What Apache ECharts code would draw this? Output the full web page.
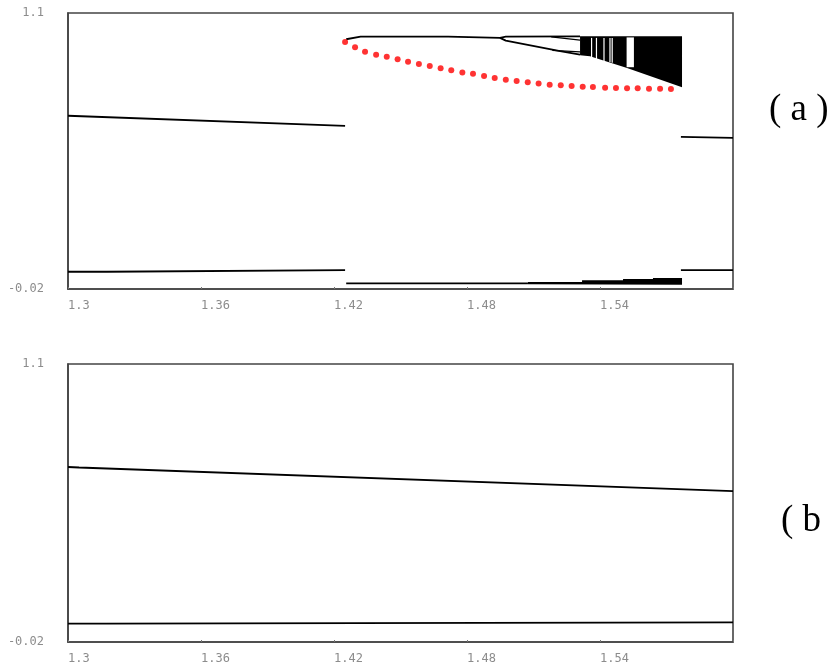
<!DOCTYPE html>
<html>
<head>
<meta charset="utf-8">
<script src="https://cdn.jsdelivr.net/npm/echarts@6/dist/echarts.min.js"></script>
<style>
html,body{margin:0;padding:0;background:#fff;}
#chart{width:834px;height:667px;}
</style>
</head>
<body>
<div id="chart"></div>
<script>
// ---------- data ----------
const xTicks = [1.3, 1.36, 1.42, 1.48, 1.54];
const yTicks = [-0.02, 1.1];

// panel (a)
const aUpperLeft = [[1.3, 0.683], [1.425, 0.642]];
const aLowerLeft = [[1.3, 0.050], [1.3175, 0.050], [1.3175, 0.057], [1.425, 0.057]];
const aUpperJump = [[1.4255, 0.9935], [1.432, 1.004], [1.4715, 1.004], [1.4717, 0.999], [1.4949, 0.999], [1.4975, 1.004], [1.531, 1.005]];
const aPeriod2 = [[1.4949, 0.999], [1.4975, 0.988], [1.522, 0.945], [1.531, 0.931]];
const aPeriod4a = [[1.518, 1.003], [1.531, 0.990]];
const aPeriod4b = [[1.5185, 0.948], [1.531, 0.942]];
const aLowerJump = [[1.4255, 0.003], [1.5075, 0.003]];
const aChaosTop = [[1.531, 1.0056], [1.577, 1.0056], [1.577, 0.799], [1.5522, 0.877], [1.5355, 0.925], [1.531, 0.929]];
const aChaosBottom = [[1.5075, 0.0005], [1.5075, 0.0084], [1.5319, 0.0084], [1.5319, 0.0153], [1.5504, 0.0153],
  [1.5504, 0.0206], [1.5639, 0.0206], [1.5639, 0.0246], [1.577, 0.0246], [1.577, -0.0025], [1.5075, -0.0010]];
const aWindows = [[1.5362, 0.999, 0.915], [1.5384, 0.999, 0.912], [1.5418, 0.999, 0.905], [1.5445, 0.999, 0.900], [1.5455, 0.999, 0.898]];
const aWindowBox = [[1.552, 1.001], [1.5553, 1.001], [1.5553, 0.880], [1.552, 0.880]];
const aWindowLine = [[1.552, 0.942], [1.5553, 0.942]];
const aUpperRight = [[1.5765, 0.597], [1.6, 0.593]];
const aLowerRight = [[1.5765, 0.057], [1.6, 0.057]];
const aDotX = [1.4250, 1.4295, 1.4340, 1.4390, 1.4438, 1.4487, 1.4534, 1.4583, 1.4632, 1.4681, 1.4729,
  1.4779, 1.4827, 1.4877, 1.4925, 1.4975, 1.5024, 1.5074, 1.5123, 1.5173, 1.5223, 1.5272, 1.5322, 1.5368,
  1.5423, 1.5472, 1.5522, 1.5570, 1.5621, 1.5671, 1.5720];
const aDotY = [0.982, 0.961, 0.943, 0.931, 0.922, 0.912, 0.902, 0.893, 0.885, 0.876, 0.868, 0.859, 0.853,
  0.844, 0.836, 0.829, 0.824, 0.819, 0.814, 0.809, 0.807, 0.804, 0.801, 0.800, 0.797, 0.796, 0.795, 0.795,
  0.793, 0.793, 0.792];

// panel (b)
const bUpper = [[1.3, 0.685], [1.305, 0.683], [1.6, 0.588]];
const bLower = [[1.3, 0.054], [1.3175, 0.054], [1.3175, 0.057], [1.6, 0.059]];

const panelLabels = ['( a )', '( b'];

// ---------- chart ----------
const chart = echarts.init(document.getElementById('chart'), null, {renderer: 'canvas'});

const labelFont = {color: '#8c8c8c', fontFamily: 'DejaVu Sans Mono', fontSize: 12};

function xAxisFor(gi) {
  return {
    type: 'value', gridIndex: gi, min: 1.3, max: 1.6,
    axisLine: {show: true, onZero: false, lineStyle: {color: '#444', width: 1.6}},
    axisTick: {show: true, inside: true, length: 2, lineStyle: {color: '#777'}, customValues: xTicks.concat([1.6])},
    axisLabel: Object.assign({show: true, customValues: xTicks, align: 'left', margin: 11,
      formatter: v => String(v)}, labelFont),
    splitLine: {show: false}
  };
}
function yAxisFor(gi) {
  return {
    type: 'value', gridIndex: gi, min: -0.02, max: 1.1,
    axisLine: {show: true, onZero: false, lineStyle: {color: '#444', width: 1.6}},
    axisTick: {show: false},
    axisLabel: Object.assign({show: true, customValues: yTicks, margin: 24,
      formatter: v => String(v)}, labelFont),
    splitLine: {show: false}
  };
}
function lineS(data, gi, w) {
  return {type: 'line', data: data, xAxisIndex: gi, yAxisIndex: gi, showSymbol: false, symbol: 'none',
    silent: true, animation: false, lineStyle: {color: '#000', width: w || 1.8}, z: 3};
}
function polyS(pts, color, gi, z) {
  return {type: 'custom', xAxisIndex: gi, yAxisIndex: gi, data: [pts[0]], silent: true, animation: false, z: z,
    renderItem: function (params, api) {
      return {type: 'polygon', shape: {points: pts.map(p => api.coord(p))}, style: {fill: color}};
    }};
}
function vLinesS(data, color, gi, z) {
  return {type: 'custom', xAxisIndex: gi, yAxisIndex: gi, data: data, silent: true, animation: false, z: z,
    encode: {x: 0, y: [1, 2]},
    renderItem: function (params, api) {
      const p1 = api.coord([api.value(0), api.value(1)]);
      const p2 = api.coord([api.value(0), api.value(2)]);
      return {type: 'line', shape: {x1: p1[0], y1: p1[1], x2: p2[0], y2: p2[1]},
        style: {stroke: color, lineWidth: 1.2}};
    }};
}

const option = {
  backgroundColor: '#fff',
  animation: false,
  grid: [
    {left: 68, top: 13, width: 665, height: 276, show: true, borderColor: '#444', borderWidth: 1.6, backgroundColor: 'transparent'},
    {left: 68, top: 364, width: 665, height: 278, show: true, borderColor: '#444', borderWidth: 1.6, backgroundColor: 'transparent'}
  ],
  xAxis: [xAxisFor(0), xAxisFor(1)],
  yAxis: [yAxisFor(0), yAxisFor(1)],
  series: [
    lineS(aUpperLeft, 0),
    lineS(aLowerLeft, 0),
    lineS(aUpperJump, 0),
    lineS(aPeriod2, 0),
    lineS(aPeriod4a, 0, 1.2),
    lineS(aPeriod4b, 0, 1.2),
    lineS(aLowerJump, 0),
    polyS(aChaosTop, '#000', 0, 4),
    polyS(aChaosBottom, '#000', 0, 4),
    vLinesS(aWindows, '#fff', 0, 5),
    polyS(aWindowBox, '#fff', 0, 5),
    lineS(aWindowLine, 0, 1.2),
    lineS(aUpperRight, 0),
    lineS(aLowerRight, 0),
    {type: 'scatter', xAxisIndex: 0, yAxisIndex: 0, data: aDotX.map((x, i) => [x, aDotY[i]]),
      symbol: 'circle', symbolSize: 6, itemStyle: {color: '#ff0000'}, silent: true, animation: false, z: 6},
    lineS(bUpper, 1),
    lineS(bLower, 1)
  ],
  graphic: [
    {type: 'text', x: 769, y: 110, style: {text: panelLabels[0], fontFamily: 'Liberation Serif', fontSize: 37, fill: '#000', verticalAlign: 'middle', textVerticalAlign: 'middle'}},
    {type: 'text', x: 781, y: 521, style: {text: panelLabels[1], fontFamily: 'Liberation Serif', fontSize: 37, fill: '#000', verticalAlign: 'middle', textVerticalAlign: 'middle'}}
  ]
};
chart.setOption(option);
</script>
</body>
</html>
